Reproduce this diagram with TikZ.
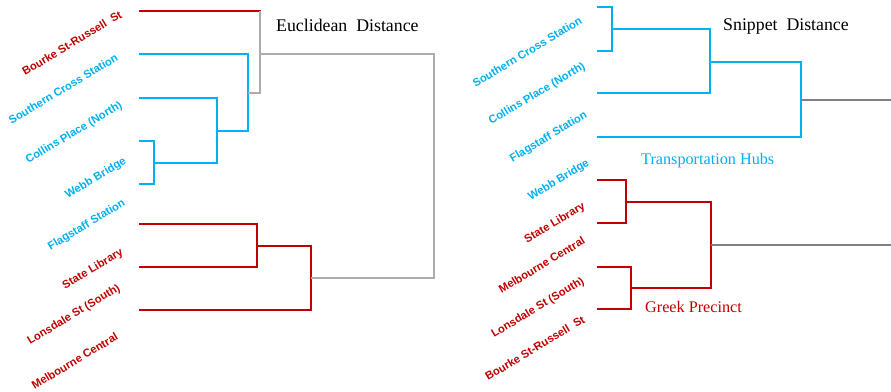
\documentclass[tikz,border=0pt]{standalone}
\usepackage{fontspec}
\setmainfont{Liberation Serif}
\setsansfont{Liberation Sans}
\definecolor{hub}{HTML}{00B0F0}
\definecolor{greek}{HTML}{C00000}
\begin{document}
\begin{tikzpicture}[x=1pt, y=-1pt,
  tree/.style={line width=1.8pt, line cap=rect},
  link/.style={line width=1.1pt, draw=gray!65},
  linkdark/.style={line width=1.1pt, draw=gray},
  leaf/.style={font=\sffamily\bfseries\fontsize{11.2}{12}\selectfont, rotate=31, anchor=base east, inner sep=0pt},
  ttl/.style={font=\fontsize{17.8}{20}\selectfont, anchor=base west, inner sep=0pt},
  grp/.style={font=\fontsize{16.2}{18}\selectfont, anchor=base west, inner sep=0pt}]
  \useasboundingbox (0,0) rectangle (891,391);
  % euclidean tree
  \def\X{140}
  \coordinate (e1) at (\X,11);
  \coordinate (e2) at (\X,54);
  \coordinate (e3) at (\X,98);
  \coordinate (e4) at (\X,141);
  \coordinate (e5) at (\X,184);
  \coordinate (e6) at (\X,224);
  \coordinate (e7) at (\X,267);
  \coordinate (e8) at (\X,310);
  \coordinate (e45) at (154,163);
  \coordinate (e345) at (217,131);
  \coordinate (e2345) at (248,93);
  \coordinate (e12345) at (260,54);
  \coordinate (e67) at (257,246);
  \coordinate (e678) at (311,278);
  \coordinate (eroot) at (434,166);
  \draw[tree, hub] (e4) -| (e45) |- (e5);
  \draw[tree, hub] (e3) -| (e345) |- (e45);
  \draw[tree, hub] (e2) -| (e2345) |- (e345);
  \draw[tree, greek] (e1) -- (e1 -| e12345);
  \draw[link] (e1 -| e12345) |- (e2345);
  \draw[tree, greek] (e6) -| (e67) |- (e7);
  \draw[tree, greek] (e8) -| (e678) |- (e67);
  \draw[link] (e12345) -| (eroot) |- (e678);
  \node[leaf, greek] (eBourke) at (123,17) {Bourke St-Russell\ \ St};
  \node[leaf, hub] (eSouthern) at (119,60) {Southern Cross Station};
  \node[leaf, hub] (eCollins) at (123,107) {Collins Place (North)};
  \node[leaf, hub] (eWebb) at (127,163) {Webb Bridge};
  \node[leaf, hub] (eFlag) at (126,205) {Flagstaff Station};
  \node[leaf, greek] (eState) at (124,254) {State Library};
  \node[leaf, greek] (eLons) at (121,290) {Lonsdale St (South)};
  \node[leaf, greek] (eMelb) at (119,339) {Melbourne Central};
  \node[ttl] (eTitle) at (276,31) {Euclidean\ \ Distance};
  % snippet tree
  \def\X{598}
  \coordinate (s1) at (\X,7);
  \coordinate (s2) at (\X,51);
  \coordinate (s3) at (\X,93);
  \coordinate (s4) at (\X,137);
  \coordinate (s5) at (\X,180);
  \coordinate (s6) at (\X,223);
  \coordinate (s7) at (\X,267);
  \coordinate (s8) at (\X,309);
  \coordinate (s12) at (612,29);
  \coordinate (s123) at (710,62);
  \coordinate (s1234) at (801,100);
  \coordinate (s56) at (626,202);
  \coordinate (s78) at (631,288);
  \coordinate (s5678) at (711,245);
  \coordinate (sout1) at (891,100);
  \coordinate (sout2) at (891,245);
  \draw[tree, hub] (s1) -| (s12) |- (s2);
  \draw[tree, hub] (s3) -| (s123) |- (s12);
  \draw[tree, hub] (s4) -| (s1234) |- (s123);
  \draw[tree, greek] (s5) -| (s56) |- (s6);
  \draw[tree, greek] (s7) -| (s78) |- (s8);
  \draw[tree, greek] (s56) -| (s5678) |- (s78);
  \draw[linkdark] (s1234) -- (sout1);
  \draw[linkdark] (s5678) -- (sout2);
  \node[leaf, hub] (sSouthern) at (583,23) {Southern Cross Station};
  \node[leaf, hub] (sCollins) at (586,68) {Collins Place (North)};
  \node[leaf, hub] (sFlag) at (588,117) {Flagstaff Station};
  \node[leaf, hub] (sWebb) at (590,165) {Webb Bridge};
  \node[leaf, greek] (sState) at (586,208) {State Library};
  \node[leaf, greek] (sMelb) at (586,243) {Melbourne Central};
  \node[leaf, greek] (sLons) at (585,283) {Lonsdale St (South)};
  \node[leaf, greek] (sBourke) at (586,322) {Bourke St-Russell\ \ St};
  \node[ttl] (sTitle) at (723,30) {Snippet\ \ Distance};
  \node[grp, hub] (sHubs) at (641,164) {Transportation Hubs};
  \node[grp, greek] (sGreek) at (645,312) {Greek Precinct};
\end{tikzpicture}
\end{document}
